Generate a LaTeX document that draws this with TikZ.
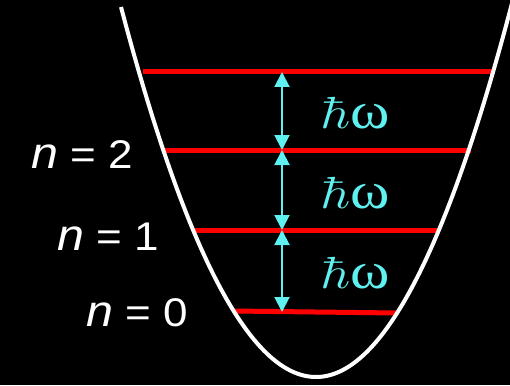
\documentclass[tikz,border=0pt]{standalone}
\usepackage[no-math]{fontspec}
\setmainfont{Liberation Sans}
\newfontfamily\grkfont{Liberation Serif}
\usetikzlibrary{arrows.meta}
\definecolor{ecyan}{RGB}{95,240,240}
\begin{document}
\begin{tikzpicture}[x=1pt,y=-1pt,
  level/.style={red, line width=5pt},
  well/.style={white, line width=4pt},
  gap/.style={ecyan, line width=2pt, {Triangle[width=15pt,length=15pt]}-{Triangle[width=15pt,length=15pt]}},
  elabel/.style={text=ecyan, inner sep=0pt, xscale=5.2, yscale=4.5},
  nlabel/.style={text=white, inner sep=0pt, anchor=base east, font=\fontsize{40}{44}\selectfont, xscale=1.1}]
\fill[black] (0,0) rectangle (510,385);
\useasboundingbox (0,0) rectangle (510,385);
% level end points
\coordinate (L3a) at (143,72);  \coordinate (L3b) at (495,72);
\coordinate (L2a) at (165,150); \coordinate (L2b) at (471,150);
\coordinate (L1a) at (194,230); \coordinate (L1b) at (440,230);
\coordinate (L0a) at (233,311); \coordinate (L0b) at (398,313);
% arrow anchor points
\coordinate (A3) at (282,72);
\coordinate (A2) at (282,150);
\coordinate (A1) at (282,230);
\coordinate (A0) at (282,312);
% levels
\draw[level] (L3a) -- (L3b);
\draw[level] (L2a) -- (L2b);
\draw[level] (L1a) -- (L1b);
\draw[level] (L0a) -- (L0b);
% gaps
\draw[gap] (A3) -- (A2);
\draw[gap] (A2) -- (A1);
\draw[gap] (A1) -- (A0);
\node[elabel] (e3) at (355,113) {$\hbar${\grkfont\fontsize{11.5}{12}\selectfont ω}};
\node[elabel] (e2) at (355,193) {$\hbar${\grkfont\fontsize{11.5}{12}\selectfont ω}};
\node[elabel] (e1) at (355,273) {$\hbar${\grkfont\fontsize{11.5}{12}\selectfont ω}};
% well
\begin{scope}
\clip (0,0) rectangle (510,385);
\draw[well] plot[domain=-1.95:2.0, samples=120] ({316+100*\x},{377-97.3*\x*\x});
\end{scope}
% labels
\node[nlabel] (n2) at (133,168) {{\fontsize{44}{48}\selectfont\itshape n} = 2};
\node[nlabel] (n1) at (159,250) {{\fontsize{44}{48}\selectfont\itshape n} = 1};
\node[nlabel] (n0) at (188,326) {{\fontsize{44}{48}\selectfont\itshape n} = 0};
\end{tikzpicture}
\end{document}
